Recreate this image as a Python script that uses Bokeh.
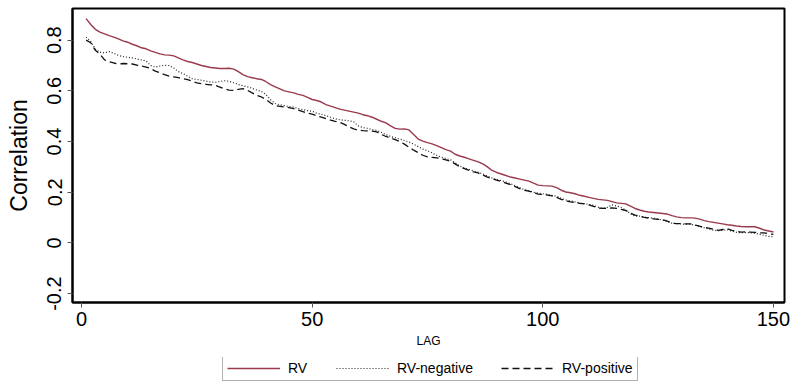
from bokeh.plotting import figure
from bokeh.models import Range1d, Legend, LegendItem, FixedTicker
from bokeh.layouts import column
from bokeh.embed import file_html
from bokeh.resources import INLINE

lags = list(range(1, 151))

rv = [0.885, 0.862, 0.843, 0.832, 0.825, 0.818, 0.812, 0.805, 0.797, 0.792,
      0.784, 0.778, 0.770, 0.766, 0.758, 0.752, 0.746, 0.742, 0.741, 0.738,
      0.730, 0.722, 0.716, 0.712, 0.706, 0.700, 0.696, 0.692, 0.690, 0.688,
      0.688, 0.689, 0.686, 0.676, 0.664, 0.656, 0.652, 0.648, 0.645, 0.636,
      0.625, 0.616, 0.608, 0.600, 0.596, 0.592, 0.586, 0.582, 0.574, 0.566,
      0.562, 0.556, 0.546, 0.540, 0.534, 0.528, 0.524, 0.520, 0.516, 0.512,
      0.506, 0.502, 0.496, 0.488, 0.480, 0.474, 0.462, 0.452, 0.449, 0.450,
      0.446, 0.428, 0.410, 0.402, 0.396, 0.391, 0.384, 0.376, 0.368, 0.362,
      0.350, 0.343, 0.338, 0.332, 0.326, 0.320, 0.312, 0.300, 0.286, 0.278,
      0.272, 0.266, 0.260, 0.256, 0.252, 0.248, 0.244, 0.236, 0.228, 0.226,
      0.225, 0.224, 0.218, 0.208, 0.201, 0.198, 0.194, 0.188, 0.184, 0.180,
      0.176, 0.172, 0.170, 0.168, 0.163, 0.158, 0.156, 0.154, 0.145, 0.136,
      0.130, 0.125, 0.122, 0.120, 0.118, 0.116, 0.114, 0.108, 0.103, 0.100,
      0.099, 0.099, 0.098, 0.094, 0.088, 0.084, 0.081, 0.078, 0.075, 0.072,
      0.070, 0.067, 0.065, 0.064, 0.064, 0.064, 0.058, 0.051, 0.047, 0.043]

rv_negative = [0.812, 0.795, 0.765, 0.752, 0.750, 0.755, 0.748, 0.740, 0.735, 0.733,
               0.730, 0.726, 0.722, 0.718, 0.700, 0.694, 0.698, 0.701, 0.700, 0.690,
               0.676, 0.668, 0.658, 0.648, 0.645, 0.642, 0.638, 0.635, 0.634, 0.637,
               0.640, 0.638, 0.632, 0.625, 0.620, 0.616, 0.610, 0.603, 0.598, 0.585,
               0.565, 0.550, 0.545, 0.542, 0.538, 0.536, 0.530, 0.526, 0.522, 0.520,
               0.512, 0.508, 0.502, 0.496, 0.490, 0.486, 0.484, 0.482, 0.478, 0.462,
               0.455, 0.452, 0.447, 0.444, 0.436, 0.428, 0.420, 0.415, 0.410, 0.404,
               0.398, 0.390, 0.380, 0.370, 0.364, 0.355, 0.346, 0.338, 0.333, 0.328,
               0.316, 0.303, 0.296, 0.290, 0.284, 0.279, 0.272, 0.264, 0.256, 0.250,
               0.246, 0.240, 0.234, 0.226, 0.218, 0.210, 0.206, 0.200, 0.196, 0.194,
               0.192, 0.188, 0.184, 0.176, 0.170, 0.166, 0.162, 0.158, 0.155, 0.152,
               0.148, 0.141, 0.137, 0.140, 0.150, 0.146, 0.140, 0.130, 0.115, 0.105,
               0.106, 0.102, 0.100, 0.098, 0.094, 0.090, 0.085, 0.078, 0.076, 0.075,
               0.074, 0.074, 0.070, 0.064, 0.060, 0.055, 0.050, 0.048, 0.050, 0.052,
               0.046, 0.042, 0.040, 0.041, 0.040, 0.038, 0.034, 0.030, 0.026, 0.024]

rv_positive = [0.800, 0.790, 0.760, 0.745, 0.722, 0.715, 0.710, 0.706, 0.708, 0.707,
               0.706, 0.702, 0.698, 0.694, 0.688, 0.678, 0.672, 0.664, 0.658, 0.655,
               0.652, 0.648, 0.644, 0.638, 0.632, 0.628, 0.626, 0.624, 0.622, 0.615,
               0.608, 0.603, 0.602, 0.606, 0.609, 0.602, 0.592, 0.582, 0.576, 0.566,
               0.552, 0.542, 0.539, 0.536, 0.534, 0.530, 0.524, 0.518, 0.512, 0.508,
               0.502, 0.496, 0.490, 0.485, 0.480, 0.476, 0.468, 0.458, 0.450, 0.445,
               0.443, 0.442, 0.441, 0.438, 0.428, 0.420, 0.414, 0.408, 0.400, 0.390,
               0.378, 0.366, 0.356, 0.346, 0.340, 0.338, 0.336, 0.332, 0.328, 0.322,
               0.312, 0.300, 0.293, 0.286, 0.280, 0.276, 0.268, 0.260, 0.254, 0.248,
               0.242, 0.236, 0.230, 0.222, 0.214, 0.208, 0.204, 0.198, 0.193, 0.191,
               0.189, 0.186, 0.180, 0.172, 0.166, 0.162, 0.160, 0.156, 0.154, 0.150,
               0.144, 0.138, 0.136, 0.136, 0.138, 0.136, 0.132, 0.128, 0.118, 0.110,
               0.106, 0.101, 0.098, 0.095, 0.093, 0.092, 0.086, 0.078, 0.076, 0.076,
               0.075, 0.075, 0.071, 0.066, 0.062, 0.058, 0.054, 0.050, 0.053, 0.056,
               0.050, 0.045, 0.043, 0.044, 0.043, 0.042, 0.040, 0.040, 0.036, 0.034]

x_ticks = [0, 50, 100, 150]
y_ticks = [-0.2, 0, 0.2, 0.4, 0.6, 0.8]
y_tick_labels = {-0.2: "-0.2", 0: "0", 0.2: "0.2", 0.4: "0.4", 0.6: "0.6", 0.8: "0.8"}
series_labels = ["RV", "RV-negative", "RV-positive"]

FONT = "Liberation Sans"
COL_RV = "#9A3A4C"

p = figure(width=798, height=357, output_backend="svg", toolbar_location=None,
           x_range=Range1d(-1.95, 152.4), y_range=Range1d(-0.235, 0.925),
           min_border_left=72, min_border_right=14, min_border_top=8, min_border_bottom=55)

p.background_fill_color = "white"
p.border_fill_color = "white"
p.outline_line_color = "black"
p.outline_line_width = 2
p.xgrid.visible = False
p.ygrid.visible = False

styles = [dict(line_color=COL_RV, line_width=1.4),
          dict(line_color="#222222", line_width=1.2, line_dash="1 2"),
          dict(line_color="#111111", line_width=1.3, line_dash="7 4")]
series = [rv, rv_negative, rv_positive]

for ys, st in zip(series, styles):
    p.line(lags, ys, **st)

for ax in (p.xaxis[0], p.yaxis[0]):
    ax.axis_line_color = "black"
    ax.axis_line_width = 2
    ax.major_tick_line_color = "#555555"
    ax.major_tick_line_width = 1
    ax.major_tick_out = 5
    ax.major_tick_in = 0
    ax.minor_tick_line_color = None
    ax.major_label_text_font = FONT
    ax.major_label_text_color = "black"
    ax.axis_label_text_font = FONT
    ax.axis_label_text_color = "black"
    ax.axis_label_text_font_style = "normal"

p.xaxis.ticker = FixedTicker(ticks=x_ticks)
p.xaxis.major_label_text_font_size = "20px"
p.xaxis.major_label_standoff = 4
p.xaxis.axis_label = "LAG"
p.xaxis.axis_label_text_font_size = "12px"
p.xaxis.axis_label_standoff = 5

p.yaxis.ticker = FixedTicker(ticks=y_ticks)
p.yaxis.major_label_overrides = y_tick_labels
p.yaxis.major_label_orientation = "vertical"
p.yaxis.major_label_text_font_size = "20px"
p.yaxis.major_label_standoff = 6
p.yaxis.axis_label = "Correlation"
p.yaxis.axis_label_text_font_size = "23px"
p.yaxis.axis_label_standoff = 13

# legend strip below the plot (its own lines lie outside its view; only the legend shows)
lp = figure(width=798, height=24, output_backend="svg", toolbar_location=None,
            x_range=Range1d(0, 1), y_range=Range1d(10, 11),
            x_axis_location=None, y_axis_location=None,
            min_border_left=0, min_border_right=0, min_border_top=0, min_border_bottom=0)
lp.outline_line_color = None
lp.xgrid.visible = False
lp.ygrid.visible = False
lp.background_fill_color = "white"
lp.border_fill_color = "white"

items = []
for ys, st, lab in zip(series, styles, series_labels):
    r = lp.line(lags, ys, **st)
    items.append(LegendItem(label=lab, renderers=[r]))

legend = Legend(items=items, orientation="horizontal", location=(150, 0))
legend.label_text_font = FONT
legend.label_text_font_size = "14px"
legend.label_text_color = "black"
legend.glyph_width = 53
legend.glyph_height = 16
legend.label_height = 16
legend.label_standoff = 8
legend.spacing = 28
legend.padding = 4
legend.margin = 0
legend.border_line_color = "#666666"
legend.border_line_width = 1
legend.background_fill_color = "white"
legend.background_fill_alpha = 1
lp.add_layout(legend, "center")

layout = column(p, lp, spacing=0)
open("out.html", "w").write(file_html(layout, INLINE))
